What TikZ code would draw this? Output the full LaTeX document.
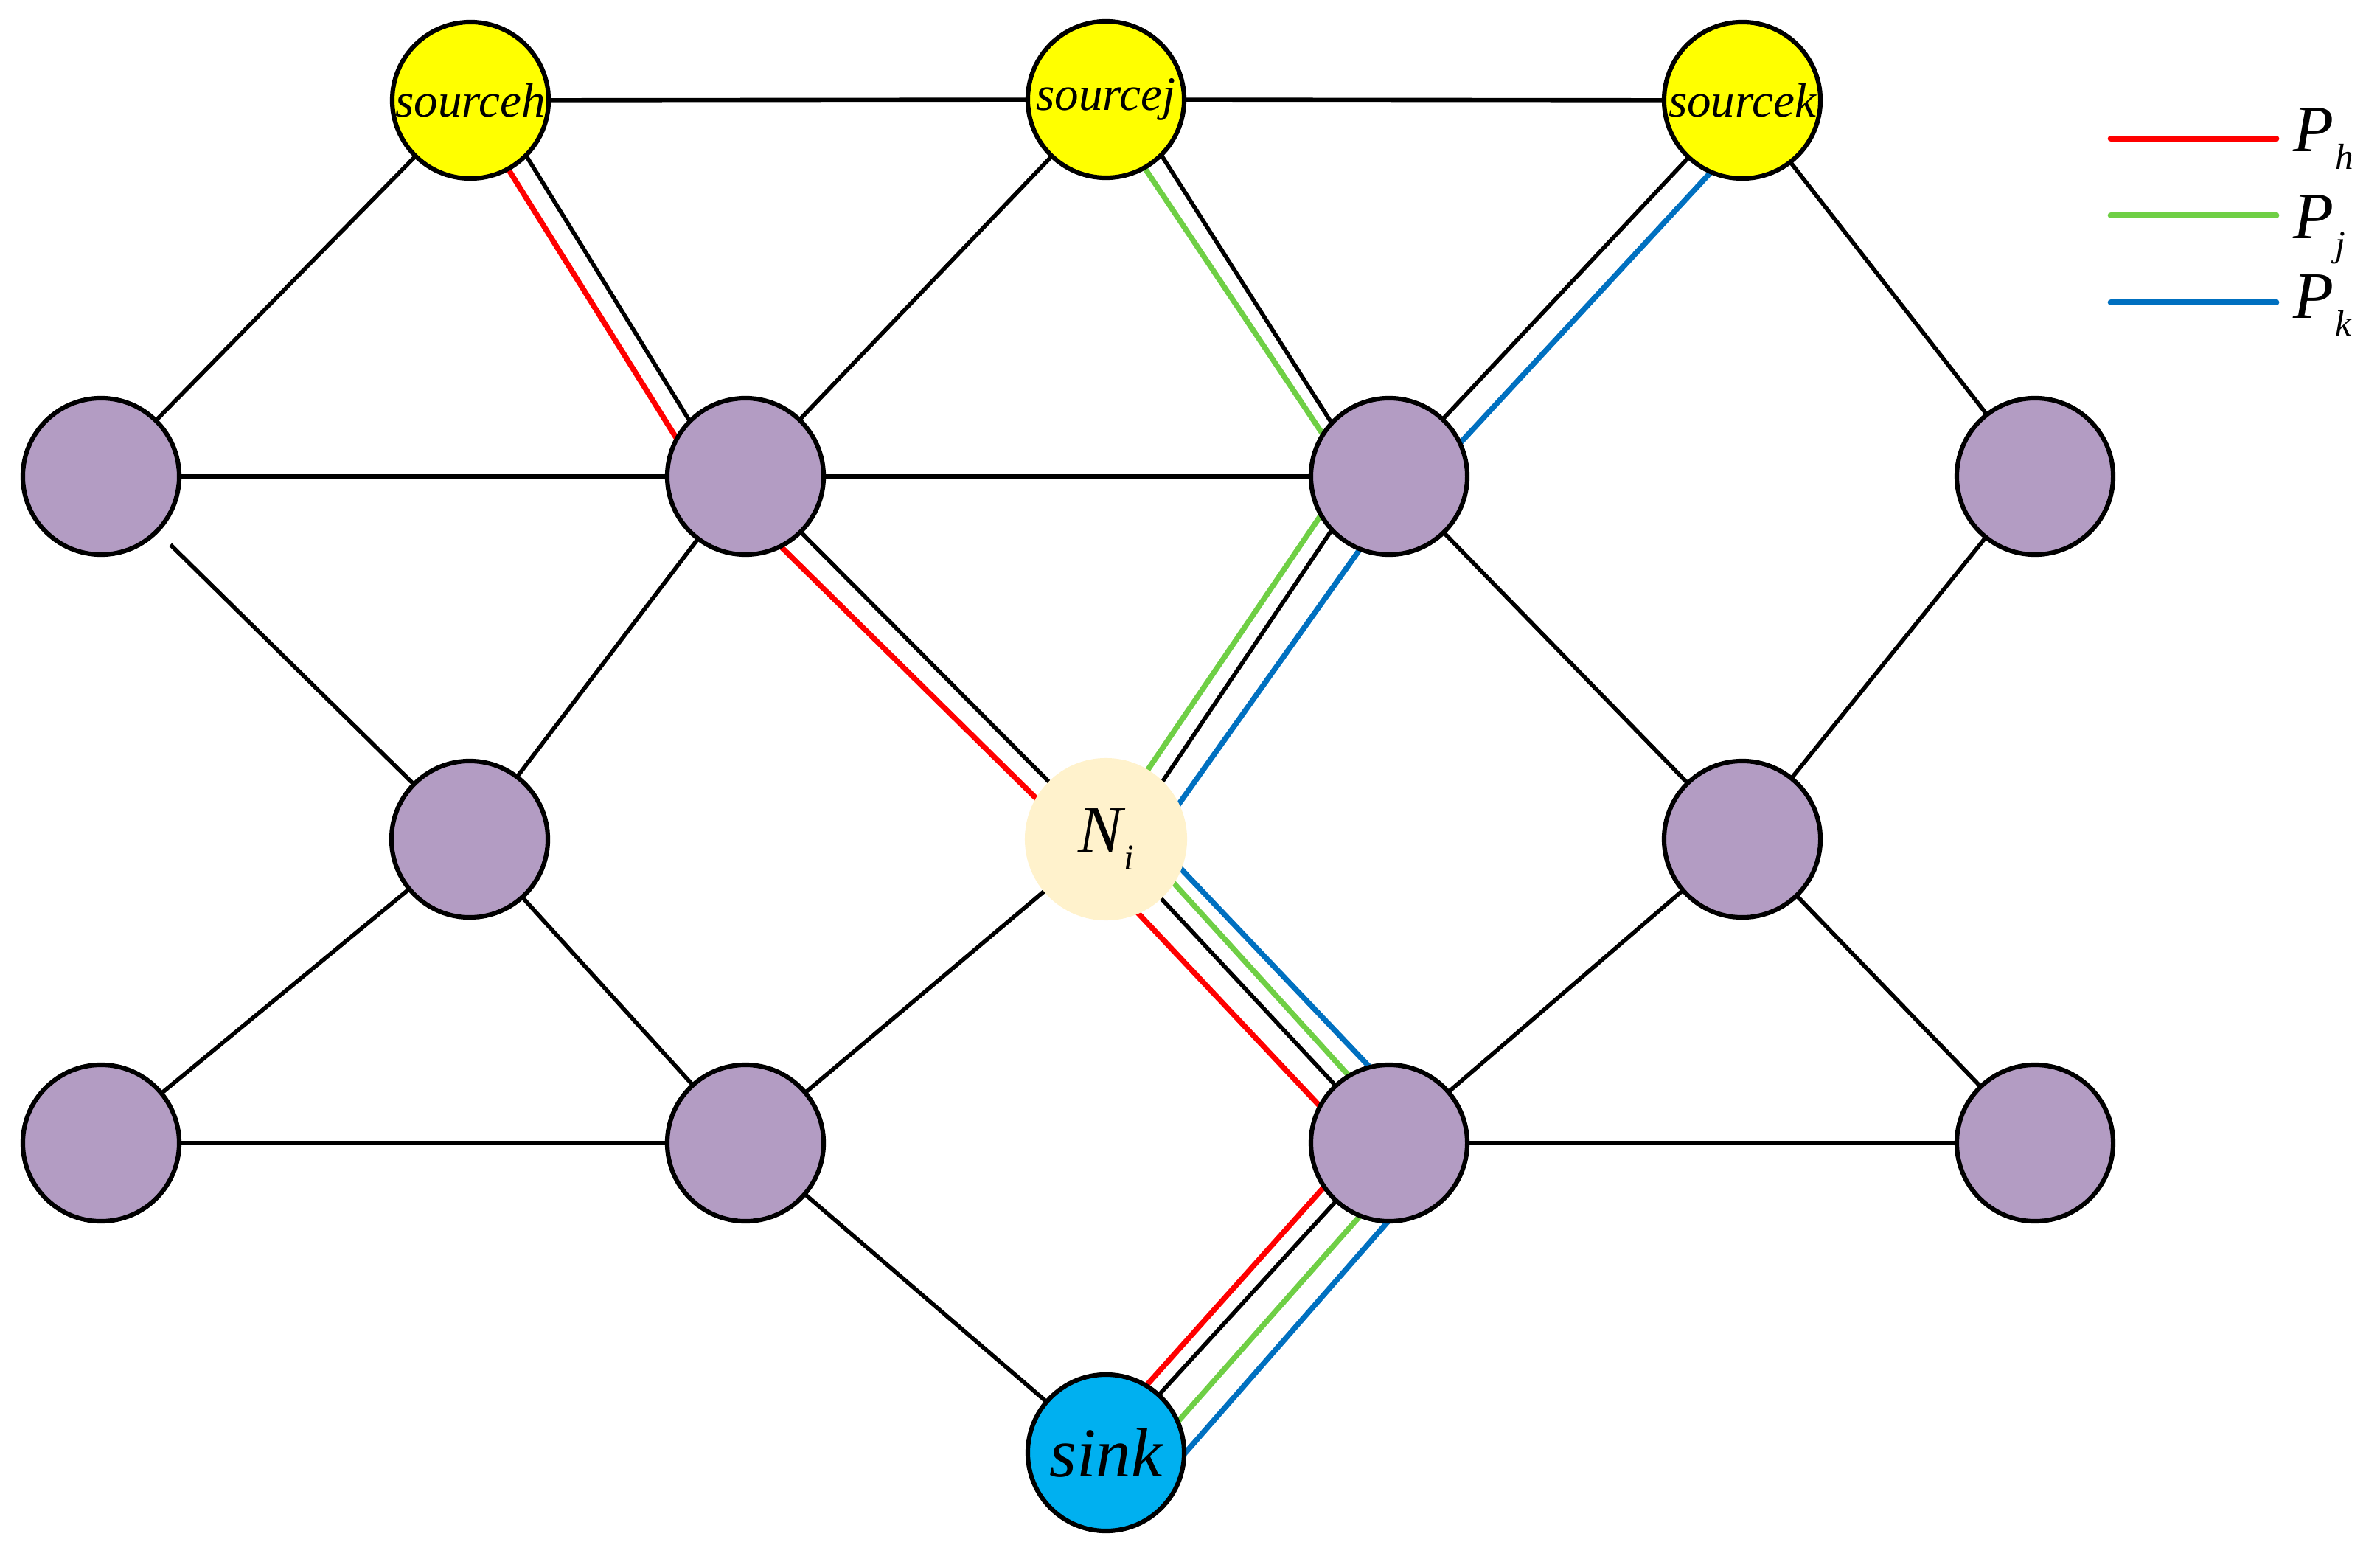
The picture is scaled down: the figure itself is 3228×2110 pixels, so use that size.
\documentclass[tikz,border=0pt]{standalone}
\usepackage{fontspec}
\setmainfont{Liberation Serif}
\usetikzlibrary{calc,backgrounds}
\definecolor{nodepurple}{HTML}{B39CC3}
\definecolor{srcyellow}{HTML}{FFFF00}
\definecolor{sinkblue}{HTML}{00B0F0}
\definecolor{nicream}{HTML}{FFF2CC}
\definecolor{phcol}{HTML}{FF0000}
\definecolor{pjcol}{HTML}{6FCF45}
\definecolor{pkcol}{HTML}{0070C0}
\newcommand{\subtxt}[2]{#1\kern0.5pt\raisebox{-6.8pt}{\fontsize{14}{14}\selectfont #2}}
\newcommand{\pathseg}[5]{\draw[#1] ($(#2.center)!#4!90:(#3.center)$) -- ($(#3.center)!#5!-90:(#2.center)$);}
\begin{document}
\begin{tikzpicture}[x=0.01cm,y=-0.01cm,line cap=round,
  basenode/.style={circle,draw=black,line width=1.75pt,minimum size=2.12cm,inner sep=0pt},
  srcnode/.style={basenode,fill=srcyellow,font=\fontsize{18.5}{18.5}\selectfont\itshape},
  purp/.style={basenode,fill=nodepurple},
  sinknode/.style={basenode,fill=sinkblue,font=\fontsize{27}{27}\selectfont\itshape},
  ninode/.style={circle,fill=nicream,draw=none,minimum size=2.2cm,inner sep=0pt,font=\fontsize{25.6}{25.6}\selectfont\itshape},
  edge/.style={draw=black,line width=1.6pt},
  pathline/.style={line width=2.1pt},
  legline/.style={line width=2.5pt},
  labtxt/.style={inner sep=0pt,font=\fontsize{25.6}{25.6}\selectfont\itshape}]
\useasboundingbox (0,0) rectangle (3228,2110);
% nodes
\node[srcnode] (sh) at (638,136) {sourceh};
\node[srcnode] (sj) at (1500,135) {sourcej};
\node[srcnode] (sk) at (2363,136) {sourcek};
\node[purp] (a1) at (137,646) {};
\node[purp] (a2) at (1011,646) {};
\node[purp] (a3) at (1884,646) {};
\node[purp] (a4) at (2760,646) {};
\node[purp] (b1) at (637,1138) {};
\node[ninode] (ni) at (1500,1138) {\subtxt{N}{i}};
\node[purp] (b3) at (2363,1138) {};
\node[purp] (c1) at (137,1550) {};
\node[purp] (c2) at (1011,1550) {};
\node[purp] (c3) at (1884,1550) {};
\node[purp] (c4) at (2760,1550) {};
\node[sinknode] (sink) at (1500,1970) {sink};
% edges
\begin{pgfonlayer}{background}
\draw[edge] (sh.center) -- (sj.center);
\draw[edge] (sj.center) -- (sk.center);
\draw[edge] (sh.center) -- (a1.center);
\draw[edge] (sj.center) -- (a2.center);
\draw[edge] (sk.center) -- (a4.center);
\draw[edge] (a1.center) -- (a2.center);
\draw[edge] (a2.center) -- (a3.center);
\draw[edge,shorten <=1.32cm] (a1.center) -- (b1.center);
\draw[edge] (a2.center) -- (b1.center);
\draw[edge] (b1.center) -- (c1.center);
\draw[edge] (b1.center) -- (c2.center);
\draw[edge] (ni.center) -- (c2.center);
\draw[edge] (a3.center) -- (b3.center);
\draw[edge] (a4.center) -- (b3.center);
\draw[edge] (b3.center) -- (c3.center);
\draw[edge] (b3.center) -- (c4.center);
\draw[edge] (c1.center) -- (c2.center);
\draw[edge] (c3.center) -- (c4.center);
\draw[edge] (c2.center) -- (sink.center);
% edges carrying paths
\pathseg{edge}{sh}{a2}{0.25cm}{-0.25cm}
\pathseg{pathline,phcol}{sh}{a2}{-0.06cm}{-0.52cm}
\pathseg{edge}{sj}{a3}{0.23cm}{-0.27cm}
\pathseg{pathline,pjcol}{sj}{a3}{-0.08cm}{-0.43cm}
\pathseg{edge}{sk}{a3}{0cm}{0cm}
\pathseg{pathline,pkcol}{sk}{a3}{0.35cm}{0.40cm}
\pathseg{edge}{a2}{ni}{0cm}{0cm}
\pathseg{pathline,phcol}{a2}{ni}{-0.34cm}{-0.27cm}
\pathseg{edge}{a3}{ni}{-0.24cm}{0.20cm}
\pathseg{pathline,pjcol}{a3}{ni}{-0.47cm}{-0.06cm}
\pathseg{pathline,pkcol}{a3}{ni}{0.25cm}{0.53cm}
\pathseg{edge}{ni}{c3}{0cm}{0cm}
\pathseg{pathline,phcol}{ni}{c3}{-0.37cm}{-0.34cm}
\pathseg{pathline,pjcol}{ni}{c3}{0.28cm}{0.21cm}
\pathseg{pathline,pkcol}{ni}{c3}{0.46cm}{0.52cm}
\pathseg{edge}{c3}{sink}{0cm}{0cm}
\pathseg{pathline,phcol}{c3}{sink}{-0.26cm}{-0.20cm}
\pathseg{pathline,pjcol}{c3}{sink}{0.36cm}{0.45cm}
\pathseg{pathline,pkcol}{c3}{sink}{0.69cm}{0.81cm}
\end{pgfonlayer}
% legend
\coordinate (lhs) at (2863,188); \coordinate (lhe) at (3087,188);
\coordinate (ljs) at (2863,292); \coordinate (lje) at (3087,292);
\coordinate (lks) at (2863,410); \coordinate (lke) at (3087,410);
\draw[legline,phcol] (lhs) -- (lhe);
\draw[legline,pjcol] (ljs) -- (lje);
\draw[legline,pkcol] (lks) -- (lke);
\node[labtxt,anchor=base west] (lh) at (3110,206) {\subtxt{P}{h}};
\node[labtxt,anchor=base west] (lj) at (3110,324) {\subtxt{P}{j}};
\node[labtxt,anchor=base west] (lk) at (3110,432) {\subtxt{P}{k}};
\end{tikzpicture}
\end{document}
